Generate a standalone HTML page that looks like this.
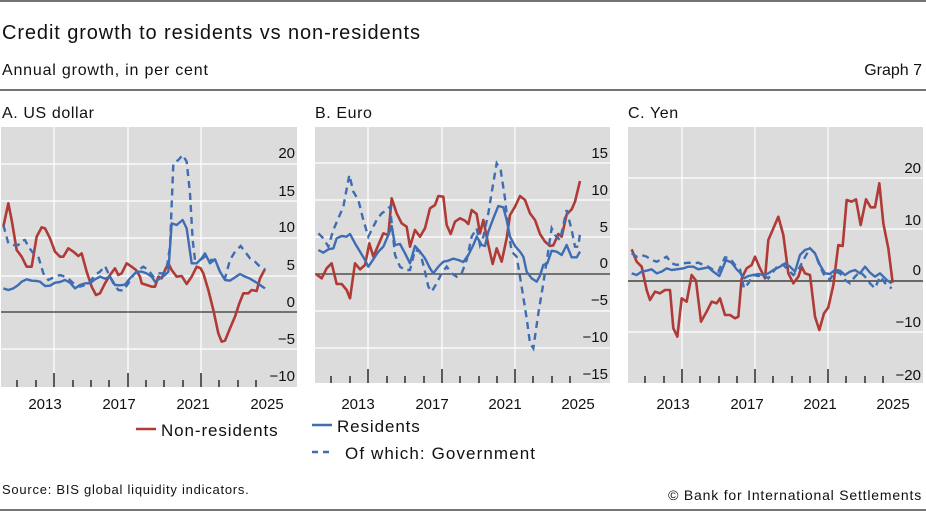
<!DOCTYPE html>
<html><head><meta charset="utf-8"><style>
html,body{margin:0;padding:0;background:#fff;}
svg{display:block;font-family:"Liberation Sans","DejaVu Sans",sans-serif;}
.r{fill:none;stroke:#b03a36;stroke-width:2.6;stroke-linejoin:round;}
.b{fill:none;stroke:#3f6db3;stroke-width:2.4;stroke-linejoin:round;}
.d{fill:none;stroke:#3f6db3;stroke-width:2.4;stroke-dasharray:7,5;}
.g{stroke:#fff;stroke-width:1.2;}
.t{font-size:15px;fill:#111;}
</style></head><body>
<svg width="926" height="511" viewBox="0 0 926 511" xmlns="http://www.w3.org/2000/svg">
<line x1="0" y1="1" x2="926" y2="1" stroke="#222" stroke-width="1.2"/>
<text x="2" y="39" font-size="20" fill="#111" letter-spacing="0.9">Credit growth to residents vs non-residents</text>
<text x="2" y="75" font-size="16" fill="#111" letter-spacing="0.8">Annual growth, in per cent</text>
<text x="922" y="75" font-size="16" fill="#111" text-anchor="end">Graph 7</text>
<line x1="0" y1="90" x2="926" y2="90" stroke="#222" stroke-width="1.2"/>
<text x="2" y="118" font-size="16" fill="#111" letter-spacing="0.6">A. US dollar</text>
<text x="315" y="118" font-size="16" fill="#111" letter-spacing="0.6">B. Euro</text>
<text x="628" y="118" font-size="16" fill="#111" letter-spacing="0.6">C. Yen</text>

<!-- Panel A -->
<rect x="1" y="127" width="296" height="260" fill="#dcdcdc"/>
<g class="g"><line x1="1" x2="297" y1="164" y2="164"/><line x1="1" x2="297" y1="201" y2="201"/><line x1="1" x2="297" y1="238" y2="238"/><line x1="1" x2="297" y1="276" y2="276"/><line x1="1" x2="297" y1="349" y2="349"/>
<line x1="54" x2="54" y1="127" y2="387"/><line x1="128" x2="128" y1="127" y2="387"/><line x1="201" x2="201" y1="127" y2="387"/></g>
<line x1="1" x2="297" y1="312" y2="312" stroke="#333" stroke-width="1.3"/>
<g stroke="#111" stroke-width="1.3"><line x1="54" x2="54" y1="373" y2="387"/><line x1="128" x2="128" y1="373" y2="387"/><line x1="201" x2="201" y1="373" y2="387"/>
<line x1="17" x2="17" y1="380" y2="387"/><line x1="36" x2="36" y1="380" y2="387"/><line x1="73" x2="73" y1="380" y2="387"/><line x1="91" x2="91" y1="380" y2="387"/><line x1="109" x2="109" y1="380" y2="387"/><line x1="146" x2="146" y1="380" y2="387"/><line x1="164" x2="164" y1="380" y2="387"/><line x1="183" x2="183" y1="380" y2="387"/><line x1="219" x2="219" y1="380" y2="387"/><line x1="238" x2="238" y1="380" y2="387"/><line x1="256" x2="256" y1="380" y2="387"/></g>
<g class="t" text-anchor="end"><text x="295" y="158">20</text><text x="295" y="196">15</text><text x="295" y="232">10</text><text x="295" y="270">5</text><text x="295" y="307">0</text><text x="295" y="344">−5</text><text x="295" y="381">−10</text></g>
<g class="t" text-anchor="middle"><text x="45" y="409">2013</text><text x="119" y="409">2017</text><text x="193" y="409">2021</text><text x="267" y="409">2025</text></g>
<g transform="translate(0,120) scale(0.33333)">
<polyline class="r" vector-effect="non-scaling-stroke" points="10,320 25,250 35,300 50,390 65,410 80,440 95,440 110,350 125,322 135,325 150,355 165,395 180,410 190,410 205,385 220,395 235,408 245,400 260,455 275,500 288,525 300,520 315,490 330,465 345,445 355,465 365,460 380,430 395,440 408,450 420,470 425,490 440,495 455,500 465,500 475,470 485,475 495,450 505,430 515,450 530,470 545,468 560,492 575,470 590,440 602,445 610,460 625,510 640,570 655,640 665,665 675,662 690,625 705,590 718,550 730,520 745,520 755,510 770,513 780,475 795,447"/>
<polyline class="b" vector-effect="non-scaling-stroke" points="10,505 25,510 40,505 55,495 65,485 80,478 95,482 110,483 120,485 135,498 150,497 165,488 180,486 195,480 210,488 225,505 240,495 255,490 270,490 285,478 300,470 315,476 330,470 345,495 360,496 375,494 390,475 410,455 425,455 440,460 455,470 465,485 480,475 495,465 505,455 515,310 530,315 548,300 560,325 575,430 590,430 605,415 615,400 630,430 645,418 660,455 675,480 690,482 705,472 720,462 735,470 750,476 765,485 780,495 795,505"/>
<polyline class="d" vector-effect="non-scaling-stroke" points="10,315 25,370 40,375 55,375 65,362 75,360 85,380 100,400 115,410 130,460 145,480 165,470 180,465 195,470 210,480 225,495 240,500 255,495 270,485 285,465 300,455 315,438 325,460 340,490 355,510 370,512 385,490 400,465 415,450 430,440 445,450 460,470 475,460 490,460 500,445 510,380 520,130 535,120 548,105 560,125 570,220 578,360 585,420 600,420 615,410 630,420 645,420 660,455 675,475 690,420 705,395 722,378 735,395 750,415 765,425 780,440 795,448"/>
</g>

<!-- Panel B -->
<rect x="315" y="127" width="295" height="256" fill="#dcdcdc"/>
<g class="g"><line x1="315" x2="610" y1="163" y2="163"/><line x1="315" x2="610" y1="200" y2="200"/><line x1="315" x2="610" y1="237" y2="237"/><line x1="315" x2="610" y1="311" y2="311"/><line x1="315" x2="610" y1="348" y2="348"/>
<line x1="368" x2="368" y1="127" y2="383"/><line x1="442" x2="442" y1="127" y2="383"/><line x1="515" x2="515" y1="127" y2="383"/></g>
<line x1="315" x2="610" y1="274" y2="274" stroke="#333" stroke-width="1.3"/>
<g stroke="#111" stroke-width="1.3"><line x1="368" x2="368" y1="369" y2="383"/><line x1="442" x2="442" y1="369" y2="383"/><line x1="515" x2="515" y1="369" y2="383"/>
<line x1="331" x2="331" y1="376" y2="383"/><line x1="350" x2="350" y1="376" y2="383"/><line x1="387" x2="387" y1="376" y2="383"/><line x1="405" x2="405" y1="376" y2="383"/><line x1="424" x2="424" y1="376" y2="383"/><line x1="460" x2="460" y1="376" y2="383"/><line x1="479" x2="479" y1="376" y2="383"/><line x1="497" x2="497" y1="376" y2="383"/><line x1="533" x2="533" y1="376" y2="383"/><line x1="552" x2="552" y1="376" y2="383"/><line x1="570" x2="570" y1="376" y2="383"/></g>
<g class="t" text-anchor="end"><text x="608" y="158">15</text><text x="608" y="195">10</text><text x="608" y="232">5</text><text x="608" y="268">0</text><text x="608" y="305">−5</text><text x="608" y="342">−10</text><text x="608" y="379">−15</text></g>
<g class="t" text-anchor="middle"><text x="358" y="409">2013</text><text x="432" y="409">2017</text><text x="505" y="409">2021</text><text x="578" y="409">2025</text></g>
<g transform="translate(310,120) scale(0.33333)">
<polyline class="r" vector-effect="non-scaling-stroke" points="18,462 35,475 50,445 65,430 80,492 95,492 110,510 120,535 135,430 150,448 165,435 178,370 190,410 205,375 220,340 235,345 245,235 260,280 275,310 290,320 300,380 315,330 330,350 345,325 360,265 375,255 385,228 400,230 410,315 422,342 435,305 450,295 465,302 475,312 485,270 500,282 510,340 520,300 535,375 548,432 560,385 575,425 590,355 600,285 615,260 630,228 645,240 660,280 675,300 690,342 705,365 720,378 730,376 745,342 755,350 770,283 785,268 795,245 810,183"/>
<polyline class="b" vector-effect="non-scaling-stroke" points="25,390 40,398 55,388 70,385 80,355 95,348 110,350 120,342 135,370 150,395 165,420 175,440 190,418 205,395 220,380 235,345 245,318 255,375 270,372 285,400 300,430 315,378 330,395 345,415 360,445 370,460 385,440 400,425 415,422 430,416 445,420 460,426 475,405 490,375 500,350 515,375 525,378 535,335 550,295 565,258 580,262 590,300 600,350 615,378 630,395 640,410 650,455 665,475 680,485 690,467 700,435 712,430 725,392 740,395 755,405 770,375 785,412 800,412 810,395"/>
<polyline class="d" vector-effect="non-scaling-stroke" points="25,340 40,355 55,380 70,330 85,295 100,260 118,165 130,215 145,240 160,300 175,350 185,330 200,300 215,280 230,270 240,260 255,405 270,440 285,450 300,450 315,390 330,395 345,455 355,500 365,515 380,490 395,460 410,440 425,460 440,470 455,460 470,420 485,350 500,325 510,375 520,350 535,280 548,200 560,130 572,150 585,235 595,330 605,395 620,410 635,500 650,595 660,670 670,685 685,580 700,490 712,410 725,325 735,345 750,360 770,270 785,330 795,380 805,380 810,340"/>
</g>

<!-- Panel C -->
<rect x="628" y="127" width="295" height="256" fill="#dcdcdc"/>
<g class="g"><line x1="628" x2="923" y1="178" y2="178"/><line x1="628" x2="923" y1="229" y2="229"/><line x1="628" x2="923" y1="332" y2="332"/>
<line x1="682" x2="682" y1="127" y2="383"/><line x1="755" x2="755" y1="127" y2="383"/><line x1="828" x2="828" y1="127" y2="383"/></g>
<line x1="628" x2="923" y1="281" y2="281" stroke="#222" stroke-width="1.3"/>
<g stroke="#111" stroke-width="1.3"><line x1="682" x2="682" y1="369" y2="383"/><line x1="755" x2="755" y1="369" y2="383"/><line x1="828" x2="828" y1="369" y2="383"/>
<line x1="645" x2="645" y1="376" y2="383"/><line x1="664" x2="664" y1="376" y2="383"/><line x1="700" x2="700" y1="376" y2="383"/><line x1="719" x2="719" y1="376" y2="383"/><line x1="737" x2="737" y1="376" y2="383"/><line x1="773" x2="773" y1="376" y2="383"/><line x1="792" x2="792" y1="376" y2="383"/><line x1="810" x2="810" y1="376" y2="383"/><line x1="846" x2="846" y1="376" y2="383"/><line x1="865" x2="865" y1="376" y2="383"/><line x1="883" x2="883" y1="376" y2="383"/></g>
<g class="t" text-anchor="end"><text x="921" y="173">20</text><text x="921" y="225">10</text><text x="921" y="275">0</text><text x="921" y="327">−10</text><text x="921" y="380">−20</text></g>
<g class="t" text-anchor="middle"><text x="673" y="409">2013</text><text x="747" y="409">2017</text><text x="820" y="409">2021</text><text x="893" y="409">2025</text></g>
<g transform="translate(620,120) scale(0.33333)">
<polyline class="r" vector-effect="non-scaling-stroke" points="35,388 50,425 65,440 80,510 90,540 105,515 120,520 135,510 150,510 160,625 172,650 185,535 200,545 215,465 228,482 243,605 260,575 275,545 290,550 300,535 315,585 330,585 345,595 355,590 365,475 380,445 395,435 405,410 420,445 435,475 445,360 460,325 475,290 490,345 505,460 520,490 535,470 545,440 555,460 570,465 585,590 598,630 612,580 625,562 640,495 655,375 668,378 680,240 695,245 708,238 722,315 738,238 752,262 765,262 778,190 790,310 805,385 818,488"/>
<polyline class="b" vector-effect="non-scaling-stroke" points="35,460 50,465 65,455 80,452 95,448 110,460 125,455 140,445 155,450 170,448 190,445 205,440 220,440 235,448 250,445 265,442 280,455 298,468 318,420 335,428 350,448 362,460 372,475 385,468 400,465 415,462 430,465 445,460 460,450 480,440 495,430 510,440 525,455 540,405 555,390 570,385 585,400 600,435 615,460 630,462 645,450 660,452 675,465 690,455 705,450 720,460 735,440 750,458 765,470 780,460 800,480 815,490"/>
<polyline class="d" vector-effect="non-scaling-stroke" points="35,400 50,410 65,405 80,410 95,420 110,425 125,418 140,410 155,430 170,435 190,430 205,428 220,430 235,428 250,435 265,440 280,450 295,455 315,412 330,415 345,435 360,448 372,505 385,490 400,465 415,468 430,465 445,475 460,455 475,435 490,435 505,450 520,465 535,450 550,420 570,385 585,400 600,440 615,470 630,478 645,455 660,460 675,480 690,490 705,470 720,455 735,470 750,490 765,505 780,470 800,495 815,505"/>
</g>

<!-- Legend -->
<line x1="136" x2="156" y1="429" y2="429" stroke="#b03a36" stroke-width="2.6"/>
<text x="161" y="436" fill="#111" font-size="17" letter-spacing="0.9">Non-residents</text>
<line x1="312" x2="332" y1="425" y2="425" stroke="#3f6db3" stroke-width="2.4"/>
<text x="337" y="432" fill="#111" font-size="17" letter-spacing="0.9">Residents</text>
<line x1="312" x2="332" y1="452" y2="452" stroke="#3f6db3" stroke-width="2.4" stroke-dasharray="6,5"/>
<text x="345" y="459" fill="#111" font-size="17" letter-spacing="1.1">Of which: Government</text>

<text x="2" y="494" font-size="13" fill="#111" letter-spacing="0.75">Source: BIS global liquidity indicators.</text>
<text x="922" y="500" font-size="14" fill="#111" text-anchor="end" letter-spacing="0.8">© Bank for International Settlements</text>
<line x1="0" y1="510" x2="926" y2="510" stroke="#222" stroke-width="1.2"/>
</svg>
</body></html>
